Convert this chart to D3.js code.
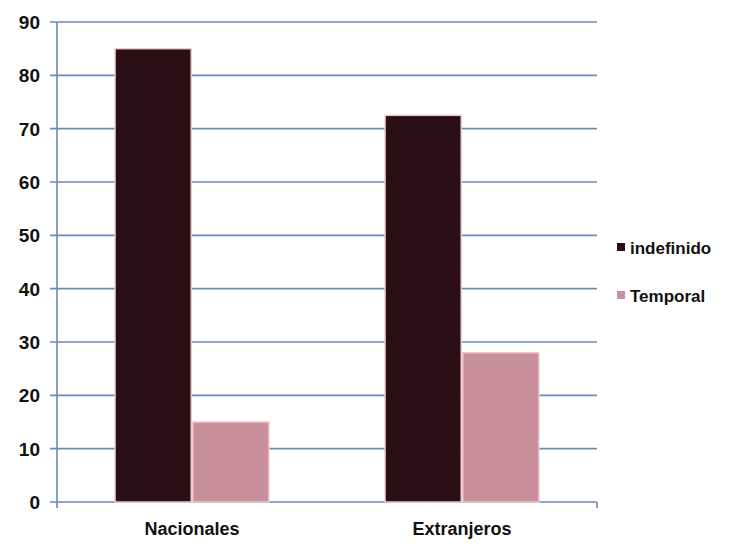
<!DOCTYPE html>
<html><head><meta charset="utf-8">
<script src="https://cdn.jsdelivr.net/npm/d3@7"></script>
<style>body{margin:0;background:#fff}</style>
</head><body>
<script>
const categories = ["Nacionales", "Extranjeros"];
const seriesNames = ["indefinido", "Temporal"];
const indefinido = [85, 72.5];
const temporal = [15, 28];
const yTicks = [0, 10, 20, 30, 40, 50, 60, 70, 80, 90];

const W = 750, H = 544;
const m = {left: 57, right: 153, top: 22, bottom: 42};
const svg = d3.select("body").append("svg").attr("width", W).attr("height", H);
const font = "'Liberation Sans Narrow','Arial Narrow','Liberation Sans',Arial,sans-serif";

const y = d3.scaleLinear().domain([0, 90]).range([H - m.bottom, m.top]);
const x = d3.scaleBand().domain(categories).range([m.left, W - m.right]).paddingInner(0.43).paddingOuter(0.215);
const xs = d3.scaleBand().domain(seriesNames).range([0, x.bandwidth()]).paddingInner(0.02);
const color = d3.scaleOrdinal().domain(seriesNames).range(["#2b0f16", "#c98f9a"]);

const grid = "#6a8bb8";
// gridlines
svg.append("g").selectAll("line").data(yTicks).join("line")
  .attr("x1", m.left - 7).attr("x2", W - m.right)
  .attr("y1", d => y(d)).attr("y2", d => y(d))
  .attr("stroke", grid).attr("stroke-width", 1.6);
// y axis line
svg.append("line").attr("x1", m.left).attr("x2", m.left)
  .attr("y1", y(90)).attr("y2", y(0) + 6).attr("stroke", grid).attr("stroke-width", 1.6);
// x axis ticks
svg.append("g").selectAll("line").data([W - m.right]).join("line")
  .attr("x1", d => d).attr("x2", d => d).attr("y1", y(0)).attr("y2", y(0) + 6)
  .attr("stroke", grid).attr("stroke-width", 1.6);

// y labels
svg.append("g").selectAll("text").data(yTicks).join("text")
  .attr("x", 40).attr("y", d => y(d)).attr("dy", "0.36em")
  .attr("text-anchor", "end").attr("font-family", font).attr("font-weight", "bold")
  .attr("font-size", 19).attr("fill", "#111").text(d => d);

// bars
const rows = categories.map((c, i) => ({cat: c, vals: [indefinido[i], temporal[i]]}));
const g = svg.append("g").selectAll("g").data(rows).join("g")
  .attr("transform", d => `translate(${x(d.cat)},0)`);
g.selectAll("rect").data(d => seriesNames.map((s, j) => ({s, v: d.vals[j]}))).join("rect")
  .attr("x", d => xs(d.s)).attr("width", xs.bandwidth())
  .attr("y", d => y(d.v)).attr("height", d => y(0) - y(d.v))
  .attr("fill", d => color(d.s)).attr("stroke", "#f1c9cc").attr("stroke-width", 1.5);

// x labels
svg.append("g").selectAll("text").data(categories).join("text")
  .attr("x", d => x(d) + x.bandwidth() / 2).attr("y", H - 9)
  .attr("text-anchor", "middle").attr("font-family", font).attr("font-weight", "bold")
  .attr("font-size", 18).attr("fill", "#111").text(d => d);

// legend
const lg = svg.append("g").selectAll("g").data(seriesNames).join("g")
  .attr("transform", (d, i) => `translate(617,${248 + i * 48})`);
lg.append("rect").attr("x", 0).attr("y", -5).attr("width", 8).attr("height", 8)
  .attr("fill", d => color(d));
lg.append("text").attr("x", 13).attr("y", 0).attr("dy", "0.36em")
  .attr("font-family", font).attr("font-weight", "bold").attr("font-size", 17)
  .attr("fill", "#111").text(d => d);
</script>
</body></html>
